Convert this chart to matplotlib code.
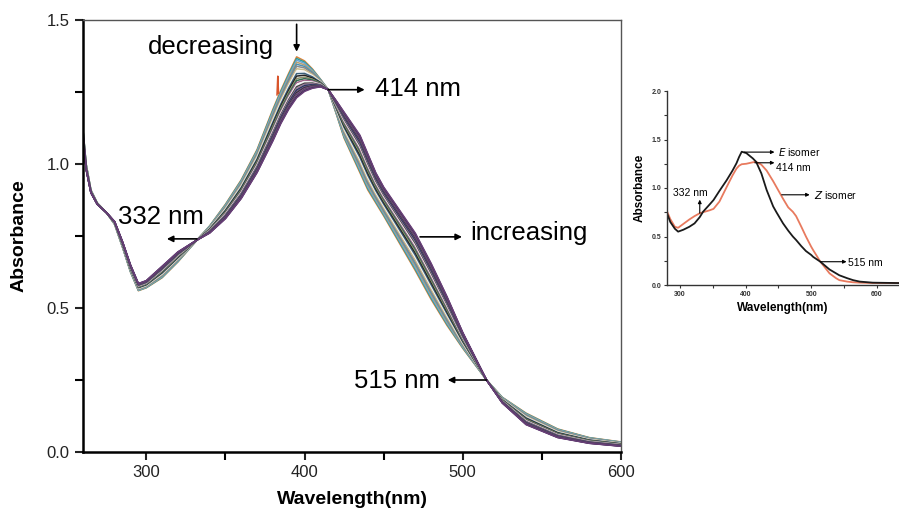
import matplotlib
matplotlib.use("Agg")
import matplotlib.pyplot as plt
from matplotlib.ticker import MultipleLocator

plt.rcParams['font.family'] = ['Liberation Sans', 'DejaVu Sans']

# ---- main panel: spectra recorded during the E -> Z change ----
wl = [260, 262, 265, 269, 275, 280, 285, 290, 295, 300, 310, 320, 332, 340, 350, 360,
      370, 380, 385, 390, 395, 400, 405, 410, 415, 420, 425, 430, 435, 440, 445, 450, 460,
      470, 480, 490, 500, 515, 525, 540, 560, 580, 600]
abs_first = [1.12, 1.0, 0.91, 0.865, 0.83, 0.79, 0.71, 0.625, 0.56, 0.57, 0.605, 0.66, 0.736, 0.785, 0.86, 0.945,
             1.05, 1.19, 1.255, 1.315, 1.372, 1.358, 1.33, 1.295, 1.258, 1.175, 1.09, 1.03, 0.97, 0.91, 0.865, 0.82, 0.725,
             0.63, 0.53, 0.44, 0.36, 0.25, 0.19, 0.135, 0.08, 0.05, 0.035]
abs_last = [1.10, 0.98, 0.90, 0.86, 0.83, 0.80, 0.73, 0.65, 0.585, 0.595, 0.645, 0.695, 0.736, 0.76, 0.81, 0.88,
            0.97, 1.08, 1.14, 1.19, 1.23, 1.252, 1.263, 1.268, 1.258, 1.22, 1.18, 1.14, 1.10, 1.035, 0.97, 0.92, 0.84,
            0.76, 0.655, 0.54, 0.415, 0.25, 0.17, 0.095, 0.05, 0.03, 0.02]
# fraction of the change reached in each recorded scan (read from the peak heights)
scan_frac = [0.0, 0.04, 0.08, 0.13, 0.18, 0.23, 0.29, 0.35, 0.41, 0.47, 0.53, 0.58,
             0.63, 0.68, 0.73, 0.77, 0.81, 0.85, 0.88, 0.91, 0.94, 0.96, 0.98, 1.0]
scan_colors = ['#d9823b', '#2a9d9a', '#6aa5d6', '#b8a070', '#4f8fb3', '#8a8a8a', '#c9b98a', '#f4f4f4',
               '#3a5f7a', '#222222', '#8c8c6a', '#2e6b4f', '#a0668a', '#f4f4f4', '#444444', '#9c7a9a',
               '#1f3a5a', '#6b4a7a', '#333333', '#7a5a8a', '#4a2f5a', '#8a5f8a', '#2b2b4a', '#6a3f78']
spike_wl = [382.6, 383.1, 383.6]
spike_abs = [1.24, 1.305, 1.245]

# ---- inset: pure isomers ----
ins_wl = [280, 285, 292, 297, 305, 314, 322, 330, 335, 345, 351, 360, 371, 380, 386, 390, 394, 401,
          411, 416, 424, 432, 442, 447, 457, 465, 472, 477, 485, 492, 500, 503, 514, 528, 538, 543,
          555, 564, 574, 594, 634]
e_isomer = [0.74, 0.65, 0.58, 0.55, 0.57, 0.60, 0.635, 0.70, 0.755, 0.83, 0.876, 0.97, 1.08, 1.18, 1.255, 1.32,
            1.374, 1.36, 1.305, 1.27, 1.15, 0.98, 0.81, 0.75, 0.636, 0.56, 0.50, 0.464, 0.40, 0.35, 0.31, 0.29,
            0.24, 0.16, 0.12, 0.10, 0.07, 0.05, 0.035, 0.024, 0.02]
z_isomer = [0.76, 0.68, 0.60, 0.59, 0.63, 0.675, 0.71, 0.74, 0.75, 0.77, 0.785, 0.86, 1.01, 1.13, 1.2, 1.23,
            1.245, 1.25, 1.265, 1.27, 1.24, 1.18, 1.07, 1.01, 0.89, 0.80, 0.755, 0.71, 0.60, 0.50, 0.395, 0.36,
            0.24, 0.12, 0.07, 0.05, 0.035, 0.028, 0.024, 0.02, 0.02]

fig = plt.figure(figsize=(8.99, 5.16), dpi=100)
ax = fig.add_axes([83/899, 1 - 452/516, (621 - 83)/899, (452 - 20)/516])

for f, c in zip(scan_frac, scan_colors):
    y = [(1 - f) * a + f * b for a, b in zip(abs_first, abs_last)]
    ax.plot(wl, y, color=c, lw=1.1)
ax.plot(spike_wl, spike_abs, color='#d9552b', lw=1.1)

ax.set_xlim(260, 600)
ax.set_ylim(0, 1.5)
ax.xaxis.set_major_locator(MultipleLocator(100))
ax.xaxis.set_minor_locator(MultipleLocator(50))
ax.yaxis.set_major_locator(MultipleLocator(0.5))
ax.yaxis.set_minor_locator(MultipleLocator(0.25))
ax.tick_params(which='major', direction='out', length=6, width=1.5, labelsize=12, colors='#222222')
ax.tick_params(which='minor', direction='out', length=6, width=1.5)
for s in ['left', 'bottom']:
    ax.spines[s].set_linewidth(1.8)
for s in ['top', 'right']:
    ax.spines[s].set_linewidth(1.0)
    ax.spines[s].set_color('#555555')
ax.set_xlabel('Wavelength(nm)', fontsize=14, fontweight='bold', labelpad=8)
ax.set_ylabel('Absorbance', fontsize=14, fontweight='bold', labelpad=14)

arrow = dict(arrowstyle='-|>', color='k', lw=1.2, mutation_scale=9, shrinkA=0, shrinkB=0)
ax.text(341, 1.406, 'decreasing', fontsize=18.5, ha='center', va='center')
ax.annotate('', xy=(395, 1.39), xytext=(395, 1.485), arrowprops=arrow)
ax.annotate('', xy=(438, 1.258), xytext=(415, 1.258), arrowprops=arrow)
ax.text(444.5, 1.262, '414 nm', fontsize=18.5, ha='left', va='center')
ax.annotate('', xy=(499.5, 0.747), xytext=(473, 0.747), arrowprops=arrow)
ax.text(504.5, 0.76, 'increasing', fontsize=18.5, ha='left', va='center')
ax.annotate('', xy=(313, 0.74), xytext=(332, 0.74), arrowprops=arrow)
ax.text(282, 0.816, '332 nm', fontsize=18.5, ha='left', va='center')
ax.annotate('', xy=(490.5, 0.25), xytext=(515, 0.25), arrowprops=arrow)
ax.text(485.5, 0.245, '515 nm', fontsize=18.5, ha='right', va='center')

# ---- inset ----
ins = fig.add_axes([667/899, 1 - 285/516, (899 - 667)/899, (285 - 91)/516])
ins.plot(ins_wl, z_isomer, color='#e87a5e', lw=1.3)
ins.plot(ins_wl, e_isomer, color='#1a1a1a', lw=1.3)
ins.set_xlim(280, 634)
ins.set_ylim(0, 2.0)
ins.xaxis.set_major_locator(MultipleLocator(100))
ins.xaxis.set_minor_locator(MultipleLocator(50))
ins.yaxis.set_major_locator(MultipleLocator(0.5))
ins.yaxis.set_minor_locator(MultipleLocator(0.25))
ins.spines['top'].set_visible(False)
ins.spines['right'].set_visible(False)
for s in ['left', 'bottom']:
    ins.spines[s].set_linewidth(1.0)
    ins.spines[s].set_color('#333333')
ins.tick_params(which='both', direction='out', length=2.5, width=0.8, labelsize=5, colors='#333333', pad=1.5)
for lab in ins.get_xticklabels() + ins.get_yticklabels():
    lab.set_fontweight('bold')
ins.set_xlabel('Wavelength(nm)', fontsize=8.5, fontweight='bold', labelpad=3)
ins.set_ylabel('Absorbance', fontsize=8.5, fontweight='bold', labelpad=4)

sarrow = dict(arrowstyle='-|>', color='k', lw=0.8, mutation_scale=5, shrinkA=0, shrinkB=0)
ins.annotate('', xy=(444, 1.37), xytext=(398, 1.37), arrowprops=sarrow)
ins.text(449, 1.37, '$\\it{E}$ isomer', fontsize=7.5, ha='left', va='center')
ins.annotate('', xy=(444, 1.26), xytext=(414, 1.26), arrowprops=sarrow)
ins.text(447, 1.21, '414 nm', fontsize=7.5, ha='left', va='center')
ins.annotate('', xy=(330, 0.88), xytext=(330, 0.74), arrowprops=sarrow)
ins.text(289, 0.95, '332 nm', fontsize=7.5, ha='left', va='center')
ins.annotate('', xy=(497.7, 0.93), xytext=(455, 0.93), arrowprops=sarrow)
ins.text(505, 0.93, '$\\it{Z}$ isomer', fontsize=7.5, ha='left', va='center')
ins.annotate('', xy=(554, 0.24), xytext=(514, 0.24), arrowprops=sarrow)
ins.text(555.5, 0.23, '515 nm', fontsize=7.5, ha='left', va='center')

fig.savefig('out.png', dpi=100)
